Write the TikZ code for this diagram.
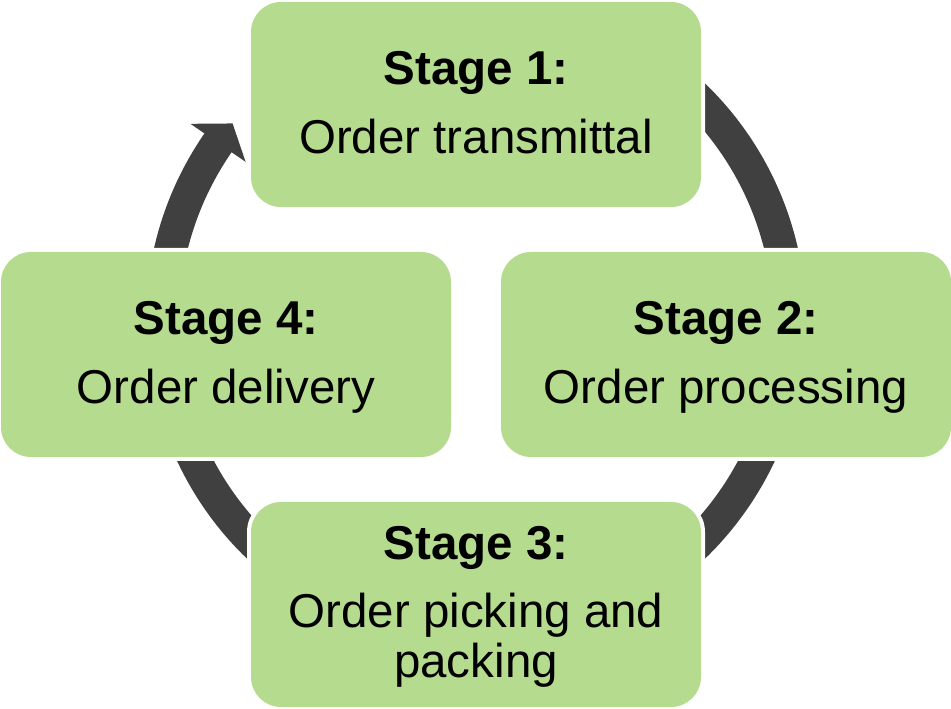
\documentclass[tikz,border=0pt]{standalone}
\usepackage{fontspec}
\setmainfont{Liberation Sans}
\definecolor{stagefill}{RGB}{181,219,143}
\definecolor{ringgray}{RGB}{64,64,64}
\begin{document}
\begin{tikzpicture}[x=1pt,y=1pt,
  stagebox/.style={rectangle, rounded corners=30pt, minimum width=450pt,
    minimum height=205pt, fill=stagefill, inner sep=0pt, outer sep=0pt,
    preaction={draw=white, line width=8pt}},
  stagetitle/.style={font=\fontsize{47.5}{50}\selectfont\bfseries,
    anchor=base, inner sep=0pt},
  stagebody/.style={font=\fontsize{47.5}{50}\selectfont,
    anchor=base, inner sep=0pt}]
\useasboundingbox (0,0) rectangle (951,709);

% cycle ring behind the boxes, with its arrowhead entering stage 1
\coordinate (hub) at (476,388);
\draw[ringgray, line width=33pt]
  ([shift={(145:313.5)}]hub) arc[start angle=145, end angle=420, radius=313.5];
\fill[ringgray]
  ([shift={(145.37:347)}]hub) -- ([shift={(140.94:313.5)}]hub)
  -- ([shift={(145.37:280)}]hub) -- cycle;

% stage boxes
\node[stagebox] (s1) at (476,604.5) {};
\node[stagebox] (s2) at (726,354.5) {};
\node[stagebox] (s3) at (476,104.5) {};
\node[stagebox] (s4) at (226,354.5) {};

% labels
\node[stagetitle] (s1t) at ([yshift=19.5pt]s1.center) {Stage 1:};
\node[stagebody]  (s1b) at ([yshift=-49pt]s1.center) {Order transmittal};
\node[stagetitle] (s2t) at ([yshift=19.5pt]s2.center) {Stage 2:};
\node[stagebody]  (s2b) at ([yshift=-49pt]s2.center) {Order processing};
\node[stagetitle] (s3t) at ([yshift=44.5pt]s3.center) {Stage 3:};
\node[stagebody]  (s3b) at ([yshift=-23.5pt]s3.center) {Order picking and};
\node[stagebody]  (s3c) at ([yshift=-73.5pt]s3.center) {packing};
\node[stagetitle] (s4t) at ([yshift=19.5pt]s4.center) {Stage 4:};
\node[stagebody]  (s4b) at ([yshift=-49pt]s4.center) {Order delivery};
\end{tikzpicture}
\end{document}
